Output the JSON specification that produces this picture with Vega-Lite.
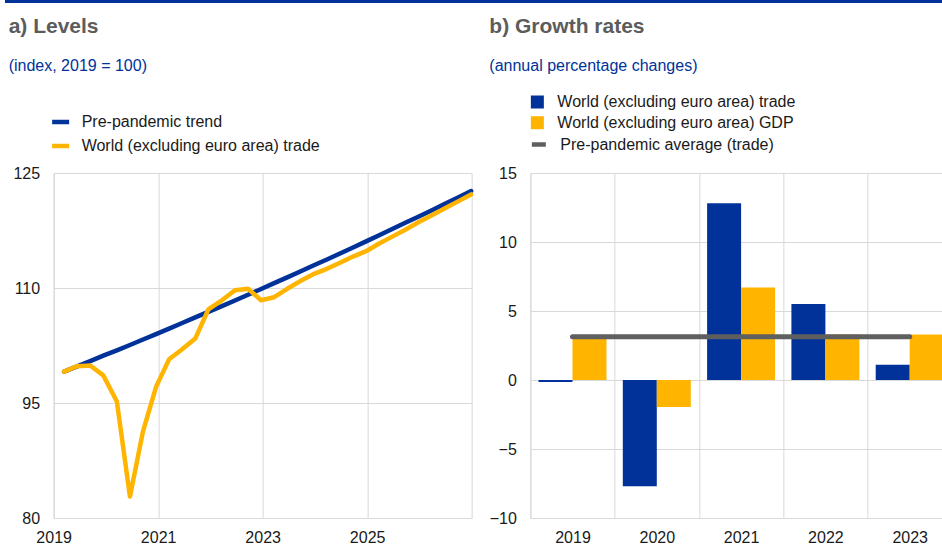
{
  "$schema": "https://vega.github.io/schema/vega-lite/v6.json",
  "padding": {"left": 5, "top": 0, "right": 0, "bottom": 0},
  "background": "white",
  "config": {
    "font": "Liberation Sans",
    "view": {"stroke": "#d9d9d9"},
    "axis": {"gridColor": "#d9d9d9", "labelFont": "Liberation Sans", "labelFontSize": 16, "labelColor": "#1a1a1a", "domain": false, "ticks": false, "title": null, "labelFlush": false, "labelOverlap": false},
    "legend": {"labelFont": "Liberation Sans", "labelFontSize": 16, "labelColor": "#1a1a1a", "title": null, "orient": "none", "labelLimit": 0},
    "title": {"font": "Liberation Sans", "subtitleFont": "Liberation Sans", "fontSize": 21, "fontWeight": "bold", "color": "#5c5c5c", "subtitleColor": "#003299", "subtitleFontSize": 16, "anchor": "start", "frame": "group", "subtitlePadding": 21.5}
  },
  "vconcat": [
    {
      "width": 996,
      "height": 3,
      "view": {"stroke": null, "fill": "#003299"},
      "data": {"values": [{"band": 1}]},
      "mark": {"type": "rect", "color": "#003299"},
      "encoding": {}
    },
    {
      "hconcat": [
        {
          "width": 418,
          "height": 345,
          "title": {"text": "a) Levels", "subtitle": "(index, 2019 = 100)", "dx": -45, "offset": 37},
          "data": {"values": [
            {"t": 2019.20, "series": "Pre-pandemic trend", "value": 99.1},
            {"t": 2019.45, "series": "Pre-pandemic trend", "value": 99.78},
            {"t": 2019.70, "series": "Pre-pandemic trend", "value": 100.47},
            {"t": 2019.95, "series": "Pre-pandemic trend", "value": 101.17},
            {"t": 2020.21, "series": "Pre-pandemic trend", "value": 101.87},
            {"t": 2020.46, "series": "Pre-pandemic trend", "value": 102.57},
            {"t": 2020.71, "series": "Pre-pandemic trend", "value": 103.28},
            {"t": 2020.96, "series": "Pre-pandemic trend", "value": 103.99},
            {"t": 2021.21, "series": "Pre-pandemic trend", "value": 104.71},
            {"t": 2021.46, "series": "Pre-pandemic trend", "value": 105.43},
            {"t": 2021.71, "series": "Pre-pandemic trend", "value": 106.16},
            {"t": 2021.96, "series": "Pre-pandemic trend", "value": 106.89},
            {"t": 2022.22, "series": "Pre-pandemic trend", "value": 107.63},
            {"t": 2022.47, "series": "Pre-pandemic trend", "value": 108.37},
            {"t": 2022.72, "series": "Pre-pandemic trend", "value": 109.12},
            {"t": 2022.97, "series": "Pre-pandemic trend", "value": 109.87},
            {"t": 2023.22, "series": "Pre-pandemic trend", "value": 110.63},
            {"t": 2023.47, "series": "Pre-pandemic trend", "value": 111.39},
            {"t": 2023.72, "series": "Pre-pandemic trend", "value": 112.16},
            {"t": 2023.97, "series": "Pre-pandemic trend", "value": 112.93},
            {"t": 2024.23, "series": "Pre-pandemic trend", "value": 113.71},
            {"t": 2024.48, "series": "Pre-pandemic trend", "value": 114.5},
            {"t": 2024.73, "series": "Pre-pandemic trend", "value": 115.29},
            {"t": 2024.98, "series": "Pre-pandemic trend", "value": 116.08},
            {"t": 2025.23, "series": "Pre-pandemic trend", "value": 116.88},
            {"t": 2025.48, "series": "Pre-pandemic trend", "value": 117.69},
            {"t": 2025.73, "series": "Pre-pandemic trend", "value": 118.5},
            {"t": 2025.99, "series": "Pre-pandemic trend", "value": 119.32},
            {"t": 2026.24, "series": "Pre-pandemic trend", "value": 120.14},
            {"t": 2026.49, "series": "Pre-pandemic trend", "value": 120.97},
            {"t": 2026.74, "series": "Pre-pandemic trend", "value": 121.81},
            {"t": 2026.99, "series": "Pre-pandemic trend", "value": 122.65},
            {"t": 2019.20, "series": "World (excluding euro area) trade", "value": 99.1},
            {"t": 2019.45, "series": "World (excluding euro area) trade", "value": 99.8},
            {"t": 2019.70, "series": "World (excluding euro area) trade", "value": 99.9},
            {"t": 2019.95, "series": "World (excluding euro area) trade", "value": 98.6},
            {"t": 2020.21, "series": "World (excluding euro area) trade", "value": 95.2},
            {"t": 2020.46, "series": "World (excluding euro area) trade", "value": 82.8},
            {"t": 2020.71, "series": "World (excluding euro area) trade", "value": 91.3},
            {"t": 2020.96, "series": "World (excluding euro area) trade", "value": 97.1},
            {"t": 2021.21, "series": "World (excluding euro area) trade", "value": 100.7},
            {"t": 2021.46, "series": "World (excluding euro area) trade", "value": 102.0},
            {"t": 2021.71, "series": "World (excluding euro area) trade", "value": 103.4},
            {"t": 2021.96, "series": "World (excluding euro area) trade", "value": 107.2},
            {"t": 2022.22, "series": "World (excluding euro area) trade", "value": 108.4},
            {"t": 2022.47, "series": "World (excluding euro area) trade", "value": 109.7},
            {"t": 2022.72, "series": "World (excluding euro area) trade", "value": 109.9},
            {"t": 2022.97, "series": "World (excluding euro area) trade", "value": 108.4},
            {"t": 2023.22, "series": "World (excluding euro area) trade", "value": 108.8},
            {"t": 2023.47, "series": "World (excluding euro area) trade", "value": 109.9},
            {"t": 2023.72, "series": "World (excluding euro area) trade", "value": 110.9},
            {"t": 2023.97, "series": "World (excluding euro area) trade", "value": 111.8},
            {"t": 2024.23, "series": "World (excluding euro area) trade", "value": 112.5},
            {"t": 2024.48, "series": "World (excluding euro area) trade", "value": 113.3},
            {"t": 2024.73, "series": "World (excluding euro area) trade", "value": 114.1},
            {"t": 2024.98, "series": "World (excluding euro area) trade", "value": 114.8},
            {"t": 2025.23, "series": "World (excluding euro area) trade", "value": 115.8},
            {"t": 2025.48, "series": "World (excluding euro area) trade", "value": 116.7},
            {"t": 2025.73, "series": "World (excluding euro area) trade", "value": 117.6},
            {"t": 2025.99, "series": "World (excluding euro area) trade", "value": 118.6},
            {"t": 2026.24, "series": "World (excluding euro area) trade", "value": 119.5},
            {"t": 2026.49, "series": "World (excluding euro area) trade", "value": 120.4},
            {"t": 2026.74, "series": "World (excluding euro area) trade", "value": 121.3},
            {"t": 2026.99, "series": "World (excluding euro area) trade", "value": 122.2}
          ]},
          "mark": {"type": "line", "strokeWidth": 4.5, "strokeJoin": "round", "strokeCap": "round"},
          "encoding": {
            "x": {"field": "t", "type": "quantitative", "scale": {"domain": [2019, 2027], "nice": false, "zero": false},
                  "axis": {"values": [2019, 2021, 2023, 2025], "format": "d", "grid": true, "labelPadding": 11}},
            "y": {"field": "value", "type": "quantitative", "scale": {"domain": [80, 125], "nice": false, "zero": false},
                  "axis": {"values": [80, 95, 110, 125], "grid": true, "labelPadding": 14}},
            "color": {"field": "series", "type": "nominal",
                      "scale": {"domain": ["Pre-pandemic trend", "World (excluding euro area) trade"], "range": ["#003299", "#ffb400"]},
                      "legend": {"orient": "none", "legendX": -4, "legendY": -62, "symbolType": "stroke", "symbolStrokeWidth": 4.5, "symbolSize": 289, "labelOffset": 10, "rowPadding": 4}}
          }
        },
        {
          "width": 421.5,
          "height": 345,
          "title": {"text": "b) Growth rates", "subtitle": "(annual percentage changes)", "dx": -41, "offset": 20},
          "layer": [
            {
              "data": {"values": [
                {"year": "2019", "series": "World (excluding euro area) trade", "value": -0.15},
                {"year": "2019", "series": "World (excluding euro area) GDP", "value": 3.0},
                {"year": "2020", "series": "World (excluding euro area) trade", "value": -7.7},
                {"year": "2020", "series": "World (excluding euro area) GDP", "value": -1.95},
                {"year": "2021", "series": "World (excluding euro area) trade", "value": 12.8},
                {"year": "2021", "series": "World (excluding euro area) GDP", "value": 6.7},
                {"year": "2022", "series": "World (excluding euro area) trade", "value": 5.5},
                {"year": "2022", "series": "World (excluding euro area) GDP", "value": 3.3},
                {"year": "2023", "series": "World (excluding euro area) trade", "value": 1.1},
                {"year": "2023", "series": "World (excluding euro area) GDP", "value": 3.3}
              ]},
              "mark": {"type": "bar"},
              "encoding": {
                "x": {"field": "year", "type": "nominal", "scale": {"paddingInner": 0, "paddingOuter": 0},
                      "axis": {"tickBand": "extent", "grid": true, "labelAngle": 0, "labelPadding": 11}},
                "xOffset": {"field": "series", "type": "nominal", "sort": ["World (excluding euro area) trade", "World (excluding euro area) GDP"],
                            "scale": {"paddingInner": 0, "paddingOuter": 0.24}},
                "y": {"field": "value", "type": "quantitative", "scale": {"domain": [-10, 15], "nice": false},
                      "axis": {"values": [-10, -5, 0, 5, 10, 15], "grid": true, "labelPadding": 14}},
                "color": {"field": "series", "type": "nominal",
                          "scale": {"domain": ["World (excluding euro area) trade", "World (excluding euro area) GDP"], "range": ["#003299", "#ffb400"]},
                          "legend": {"orient": "none", "legendX": -1, "legendY": -79, "symbolType": "square", "symbolSize": 169, "symbolStrokeWidth": 0, "labelOffset": 12, "rowPadding": 4.7}}
              }
            },
            {
              "data": {"values": [
                {"year": "2019", "year_end": "2023", "avg": 3.13, "label": "Pre-pandemic average (trade)"}
              ]},
              "mark": {"type": "rule", "strokeWidth": 5, "strokeCap": "round"},
              "encoding": {
                "x": {"field": "year", "type": "nominal"},
                "x2": {"field": "year_end"},
                "y": {"field": "avg", "type": "quantitative"},
                "stroke": {"field": "label", "type": "nominal", "scale": {"range": ["#5f5f5f"]},
                           "legend": {"orient": "none", "legendX": -1, "legendY": -38, "symbolType": "stroke", "symbolSize": 196, "symbolStrokeWidth": 4.5, "labelOffset": 12}}
              }
            }
          ]
        }
      ],
      "spacing": 58.7,
      "bounds": "flush",
      "resolve": {"scale": {"color": "independent", "stroke": "independent", "x": "independent", "y": "independent"}, "legend": {"color": "independent", "stroke": "independent"}}
    }
  ],
  "spacing": 12,
  "center": true,
  "resolve": {"scale": {"color": "independent", "stroke": "independent"}, "legend": {"color": "independent", "stroke": "independent"}}
}
